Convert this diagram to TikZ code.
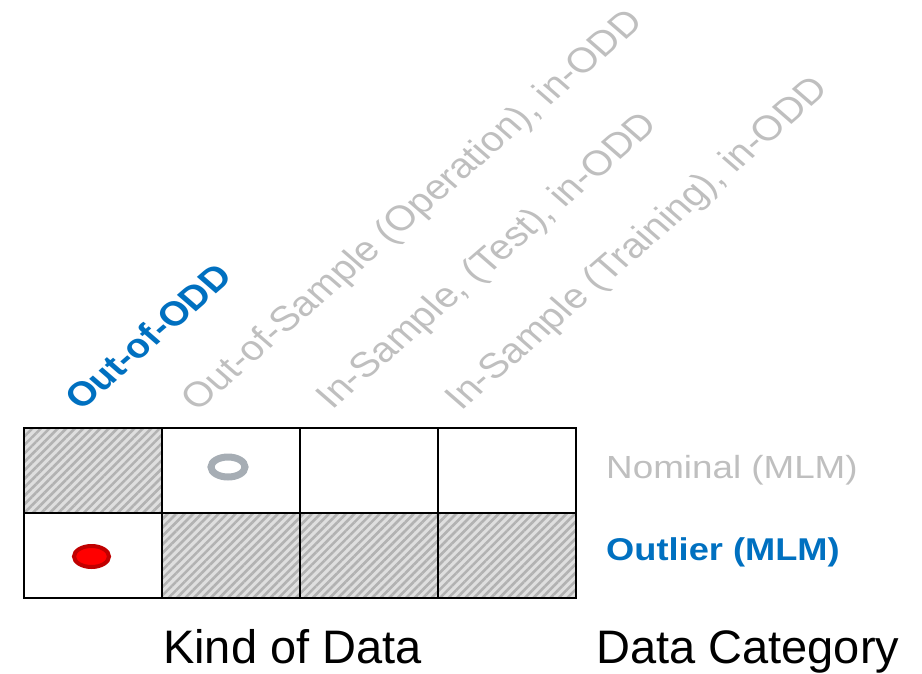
\documentclass[tikz,border=0pt]{standalone}
\usepackage{fontspec}
\setmainfont{Liberation Sans}
\usetikzlibrary{patterns.meta, shapes.geometric, positioning}
\definecolor{oddblue}{HTML}{0070C0}
\definecolor{lightgrey}{HTML}{BFBFBF}
\definecolor{ringgrey}{HTML}{A6ADB4}
\definecolor{darkred}{HTML}{C00000}

\begin{document}
\begin{tikzpicture}[x=1pt, y=-1pt,
    cell/.style={draw, line width=2.8pt, minimum width=138pt, minimum height=85pt, inner sep=0pt},
    hatch/.style={preaction={fill=gray!25}, pattern={Lines[angle=45, distance=6pt, line width=2.6pt]}, pattern color=gray!60},
    collabel/.style={xscale=1.15, rotate=45, anchor=base west, inner sep=0pt, text=lightgrey, font=\fontsize{35}{42}\selectfont},
    rowlabel/.style={xscale=1.15, anchor=base west, inner sep=0pt, font=\fontsize{32}{38}\selectfont},
    axislabel/.style={anchor=base west, inner sep=0pt, font=\fontsize{47}{54}\selectfont}
  ]
    \useasboundingbox (0,0) rectangle (922,673);

    % grid: top row nominal, bottom row outlier
    \node[cell, hatch] (nom-ood)   at (93,470.5)  {};
    \node[cell]        (nom-oper)  at (231,470.5) {};
    \node[cell]        (nom-test)  at (369,470.5) {};
    \node[cell]        (nom-train) at (507,470.5) {};
    \node[cell]        (out-ood)   at (93,555.5)  {};
    \node[cell, hatch] (out-oper)  at (231,555.5) {};
    \node[cell, hatch] (out-test)  at (369,555.5) {};
    \node[cell, hatch] (out-train) at (507,555.5) {};

    % markers
    \node[ellipse, draw=ringgrey, line width=7pt, minimum width=34pt, minimum height=20pt, inner sep=0pt] (ring) at (228,467) {};
    \node[ellipse, draw=darkred, fill=red, line width=4pt, minimum width=35pt, minimum height=21pt, inner sep=0pt] (dot) at (91.5,556.5) {};

    % column headings
    \node[collabel, text=oddblue, font=\fontsize{34}{40}\selectfont\bfseries] (h-ood) at (81,412) {Out-of-ODD};
    \node[collabel] (h-oper)  at (197,413) {Out-of-Sample (Operation), in-ODD};
    \node[collabel] (h-test)  at (332,411) {In-Sample, (Test), in-ODD};
    \node[collabel] (h-train) at (461,412) {In-Sample (Training), in-ODD};

    % row headings
    \node[rowlabel, text=lightgrey] (r-nom) at (606,478) {Nominal (MLM)};
    \node[rowlabel, text=oddblue, font=\fontsize{31.5}{38}\selectfont\bfseries] (r-out) at (606,560) {Outlier (MLM)};

    \node[axislabel] (kind) at (163,663) {Kind of Data};
    \node[axislabel] (cat)  at (596,663) {Data Category};
\end{tikzpicture}
\end{document}
